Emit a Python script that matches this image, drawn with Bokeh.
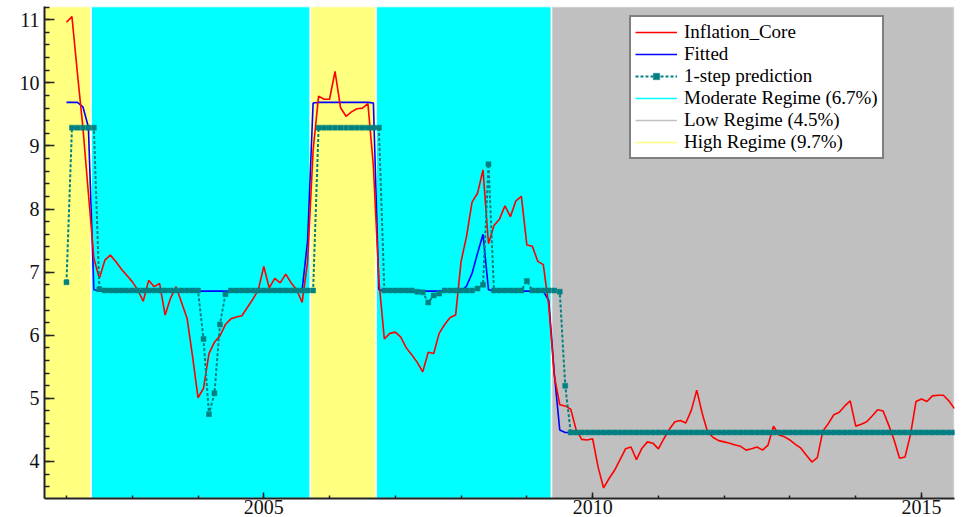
import numpy as np
from bokeh.plotting import figure
from bokeh.models import (Range1d, SingleIntervalTicker, Legend, LegendItem,
                          ColumnDataSource)
from bokeh.embed import file_html
from bokeh.resources import INLINE

# ---------------- data (monthly, first observation January 2002) ----------------
start_year = 2002

inflation_core = [
    10.96, 11.05, 10.15, 9.29, 8.25, 7.22, 6.90, 7.19, 7.27, 7.17, 7.05, 6.95,   # 2002
    6.85, 6.72, 6.54, 6.87, 6.77, 6.82, 6.32, 6.59, 6.77, 6.52, 6.27, 5.67,      # 2003
    5.01, 5.16, 5.71, 5.89, 5.99, 6.17, 6.26, 6.29, 6.31, 6.44, 6.57, 6.72,      # 2004
    7.09, 6.75, 6.90, 6.83, 6.97, 6.83, 6.72, 6.52, 7.17, 8.93, 9.79, 9.74,      # 2005
    9.74, 10.18, 9.61, 9.47, 9.54, 9.59, 9.60, 9.67, 8.68, 6.87, 5.94, 6.03,     # 2006
    6.05, 5.97, 5.80, 5.69, 5.57, 5.42, 5.73, 5.71, 6.03, 6.17, 6.28, 6.32,      # 2007
    7.17, 7.57, 8.11, 8.25, 8.62, 7.45, 7.74, 7.84, 8.05, 7.88, 8.13, 8.20,      # 2008
    7.43, 7.41, 7.17, 7.12, 6.47, 5.36, 4.90, 4.88, 4.83, 4.50, 4.35, 4.34,      # 2009
    4.36, 3.91, 3.58, 3.73, 3.86, 4.03, 4.20, 4.23, 4.03, 4.21, 4.31, 4.29,      # 2010
    4.20, 4.36, 4.51, 4.63, 4.65, 4.61, 4.81, 5.13, 4.76, 4.46, 4.38, 4.33,      # 2011
    4.31, 4.29, 4.26, 4.24, 4.18, 4.20, 4.23, 4.18, 4.26, 4.56, 4.42, 4.39,      # 2012
    4.34, 4.27, 4.21, 4.10, 3.99, 4.06, 4.48, 4.60, 4.74, 4.78, 4.88, 4.96,      # 2013
    4.56, 4.59, 4.63, 4.72, 4.82, 4.80, 4.58, 4.34, 4.05, 4.07, 4.43, 4.95,      # 2014
    4.99, 4.95, 5.04, 5.05, 5.05, 4.96, 4.84,                                    # 2015
]

fitted = [
    9.69, 9.69, 9.69, 9.62, 9.30, 6.72, 6.70, 6.70, 6.70, 6.70, 6.70, 6.70,
    6.70, 6.70, 6.70, 6.70, 6.70, 6.70, 6.70, 6.70, 6.70, 6.70, 6.70, 6.70,
    6.70, 6.70, 6.70, 6.70, 6.70, 6.70, 6.70, 6.70, 6.70, 6.70, 6.70, 6.70,
    6.70, 6.70, 6.70, 6.70, 6.70, 6.70, 6.70, 6.72, 7.50, 9.68, 9.69, 9.69,
    9.69, 9.69, 9.69, 9.69, 9.69, 9.69, 9.69, 9.69, 9.68, 6.72, 6.70, 6.70,
    6.70, 6.70, 6.70, 6.70, 6.70, 6.70, 6.70, 6.70, 6.70, 6.70, 6.70, 6.70,
    6.70, 6.78, 6.98, 7.30, 7.60, 6.72, 6.70, 6.70, 6.70, 6.70, 6.70, 6.70,
    6.70, 6.70, 6.70, 6.70, 6.55, 5.40, 4.50, 4.46, 4.46, 4.46, 4.46, 4.46,
    4.46, 4.46, 4.46, 4.46, 4.46, 4.46, 4.46, 4.46, 4.46, 4.46, 4.46, 4.46,
    4.46, 4.46, 4.46, 4.46, 4.46, 4.46, 4.46, 4.46, 4.46, 4.46, 4.46, 4.46,
    4.46, 4.46, 4.46, 4.46, 4.46, 4.46, 4.46, 4.46, 4.46, 4.46, 4.46, 4.46,
    4.46, 4.46, 4.46, 4.46, 4.46, 4.46, 4.46, 4.46, 4.46, 4.46, 4.46, 4.46,
    4.46, 4.46, 4.46, 4.46, 4.46, 4.46, 4.46, 4.46, 4.46, 4.46, 4.46, 4.46,
    4.46, 4.46, 4.46, 4.46, 4.46, 4.46, 4.46,
]

one_step_prediction = [
    6.84, 9.29, 9.29, 9.29, 9.29, 9.29, 6.73, 6.71, 6.71, 6.71, 6.71, 6.71,
    6.71, 6.71, 6.71, 6.71, 6.71, 6.71, 6.71, 6.71, 6.71, 6.71, 6.71, 6.71,
    6.71, 5.94, 4.75, 5.08, 6.17, 6.65, 6.71, 6.71, 6.71, 6.71, 6.71, 6.71,
    6.71, 6.71, 6.71, 6.71, 6.71, 6.71, 6.71, 6.71, 6.71, 6.71, 9.29, 9.29,
    9.29, 9.29, 9.29, 9.29, 9.29, 9.29, 9.29, 9.29, 9.29, 9.29, 6.71, 6.71,
    6.71, 6.71, 6.71, 6.71, 6.69, 6.68, 6.52, 6.63, 6.66, 6.71, 6.71, 6.71,
    6.71, 6.71, 6.71, 6.74, 6.80, 8.71, 6.71, 6.71, 6.71, 6.71, 6.71, 6.71,
    6.86, 6.71, 6.71, 6.71, 6.71, 6.71, 6.69, 5.20, 4.46, 4.46, 4.46, 4.46,
    4.46, 4.46, 4.46, 4.46, 4.46, 4.46, 4.46, 4.46, 4.46, 4.46, 4.46, 4.46,
    4.46, 4.46, 4.46, 4.46, 4.46, 4.46, 4.46, 4.46, 4.46, 4.46, 4.46, 4.46,
    4.46, 4.46, 4.46, 4.46, 4.46, 4.46, 4.46, 4.46, 4.46, 4.46, 4.46, 4.46,
    4.46, 4.46, 4.46, 4.46, 4.46, 4.46, 4.46, 4.46, 4.46, 4.46, 4.46, 4.46,
    4.46, 4.46, 4.46, 4.46, 4.46, 4.46, 4.46, 4.46, 4.46, 4.46, 4.46, 4.46,
    4.46, 4.46, 4.46, 4.46, 4.46, 4.46, 4.46,
]

# regime episodes (switch dates in decimal years) and their classification
regime_breaks = [2002.375, 2005.708, 2006.708, 2009.375]
regime_sequence = ["High", "Moderate", "High", "Moderate", "Low"]
regime_labels = {"Moderate": "Moderate Regime (6.7%)",
                 "Low": "Low Regime (4.5%)",
                 "High": "High Regime (9.7%)"}

x_start, x_end = 2001.666, 2015.502
y_start, y_end = 3.413, 11.21

# ---------------- styles ----------------
C_RED = "#FF0000"
C_BLUE = "#0000FF"
C_TEAL = "#008080"
REGIME_COLORS = {"Moderate": "#00FFFF", "Low": "#C0C0C0", "High": "#FFFF80"}
FONT = "Liberation Serif"

n = len(inflation_core)
t = start_year + np.arange(n) / 12.0

p = figure(width=958, height=517, output_backend="svg", toolbar_location=None,
           x_range=Range1d(x_start, x_end), y_range=Range1d(y_start, y_end),
           min_border_left=44, min_border_right=4, min_border_top=6,
           min_border_bottom=19)
p.outline_line_color = None
p.xgrid.visible = False
p.ygrid.visible = False
p.background_fill_color = "white"
p.border_fill_color = "white"

# regime shading
lefts = [x_start] + regime_breaks
rights = regime_breaks + [x_end]
shade = ColumnDataSource(dict(left=lefts, right=rights,
                              bottom=[y_start] * len(lefts), top=[y_end] * len(lefts),
                              color=[REGIME_COLORS[r] for r in regime_sequence]))
p.quad(left="left", right="right", bottom="bottom", top="top", source=shade,
       fill_color="color", line_color="white", line_width=1.5)

src = ColumnDataSource(dict(t=t, infl=inflation_core, fit=fitted, pred=one_step_prediction))
r_fit = p.line("t", "fit", source=src, line_color=C_BLUE, line_width=1.6)
r_infl = p.line("t", "infl", source=src, line_color=C_RED, line_width=1.6)
r_pred_line = p.line("t", "pred", source=src, line_color=C_TEAL, line_width=2,
                     line_dash="3 2")
r_pred_pts = p.scatter("t", "pred", source=src, marker="square", size=5,
                       fill_color=C_TEAL, line_color=C_TEAL, line_width=0.5)

# legend-only regime line samples (a single missing value, nothing is drawn)
blank = ColumnDataSource(dict(t=[x_start], y=[float("nan")]))
r_mod = p.line("t", "y", source=blank, line_color=REGIME_COLORS["Moderate"], line_width=1.6)
r_low = p.line("t", "y", source=blank, line_color=REGIME_COLORS["Low"], line_width=1.6)
r_high = p.line("t", "y", source=blank, line_color=REGIME_COLORS["High"], line_width=1.6)

legend = Legend(items=[
    LegendItem(label="Inflation_Core", renderers=[r_infl]),
    LegendItem(label="Fitted", renderers=[r_fit]),
    LegendItem(label="1-step prediction", renderers=[r_pred_line, r_pred_pts]),
    LegendItem(label=regime_labels["Moderate"], renderers=[r_mod]),
    LegendItem(label=regime_labels["Low"], renderers=[r_low]),
    LegendItem(label=regime_labels["High"], renderers=[r_high]),
], location=(585, 339))
legend.border_line_color = "black"
legend.border_line_width = 2
legend.background_fill_color = "white"
legend.background_fill_alpha = 1
legend.padding = 4
legend.spacing = 0
legend.margin = 0
legend.label_standoff = 7
legend.glyph_width = 42
legend.glyph_height = 16
legend.label_height = 16
legend.label_text_font = FONT
legend.label_text_font_size = "19px"
legend.label_text_color = "black"
p.add_layout(legend)

# axes
p.xaxis.ticker = SingleIntervalTicker(interval=5, num_minor_ticks=5)
p.yaxis.ticker = SingleIntervalTicker(interval=1, num_minor_ticks=5)
for ax in (p.xaxis[0], p.yaxis[0]):
    ax.axis_line_color = "#222222"
    ax.axis_line_width = 2
    ax.major_tick_line_color = "#222222"
    ax.minor_tick_line_color = "#222222"
    ax.major_tick_line_width = 1.5
    ax.minor_tick_line_width = 1.5
    ax.major_tick_out = 0
    ax.minor_tick_out = 0
    ax.major_label_text_font = FONT
    ax.major_label_text_font_size = "20px"
    ax.major_label_text_color = "#111111"
p.yaxis.major_tick_in = 10
p.yaxis.minor_tick_in = 5
p.xaxis.major_tick_in = 6
p.xaxis.minor_tick_in = 3
p.yaxis.major_label_standoff = 5
p.xaxis.major_label_standoff = 1

open("out.html", "w").write(file_html(p, INLINE))
